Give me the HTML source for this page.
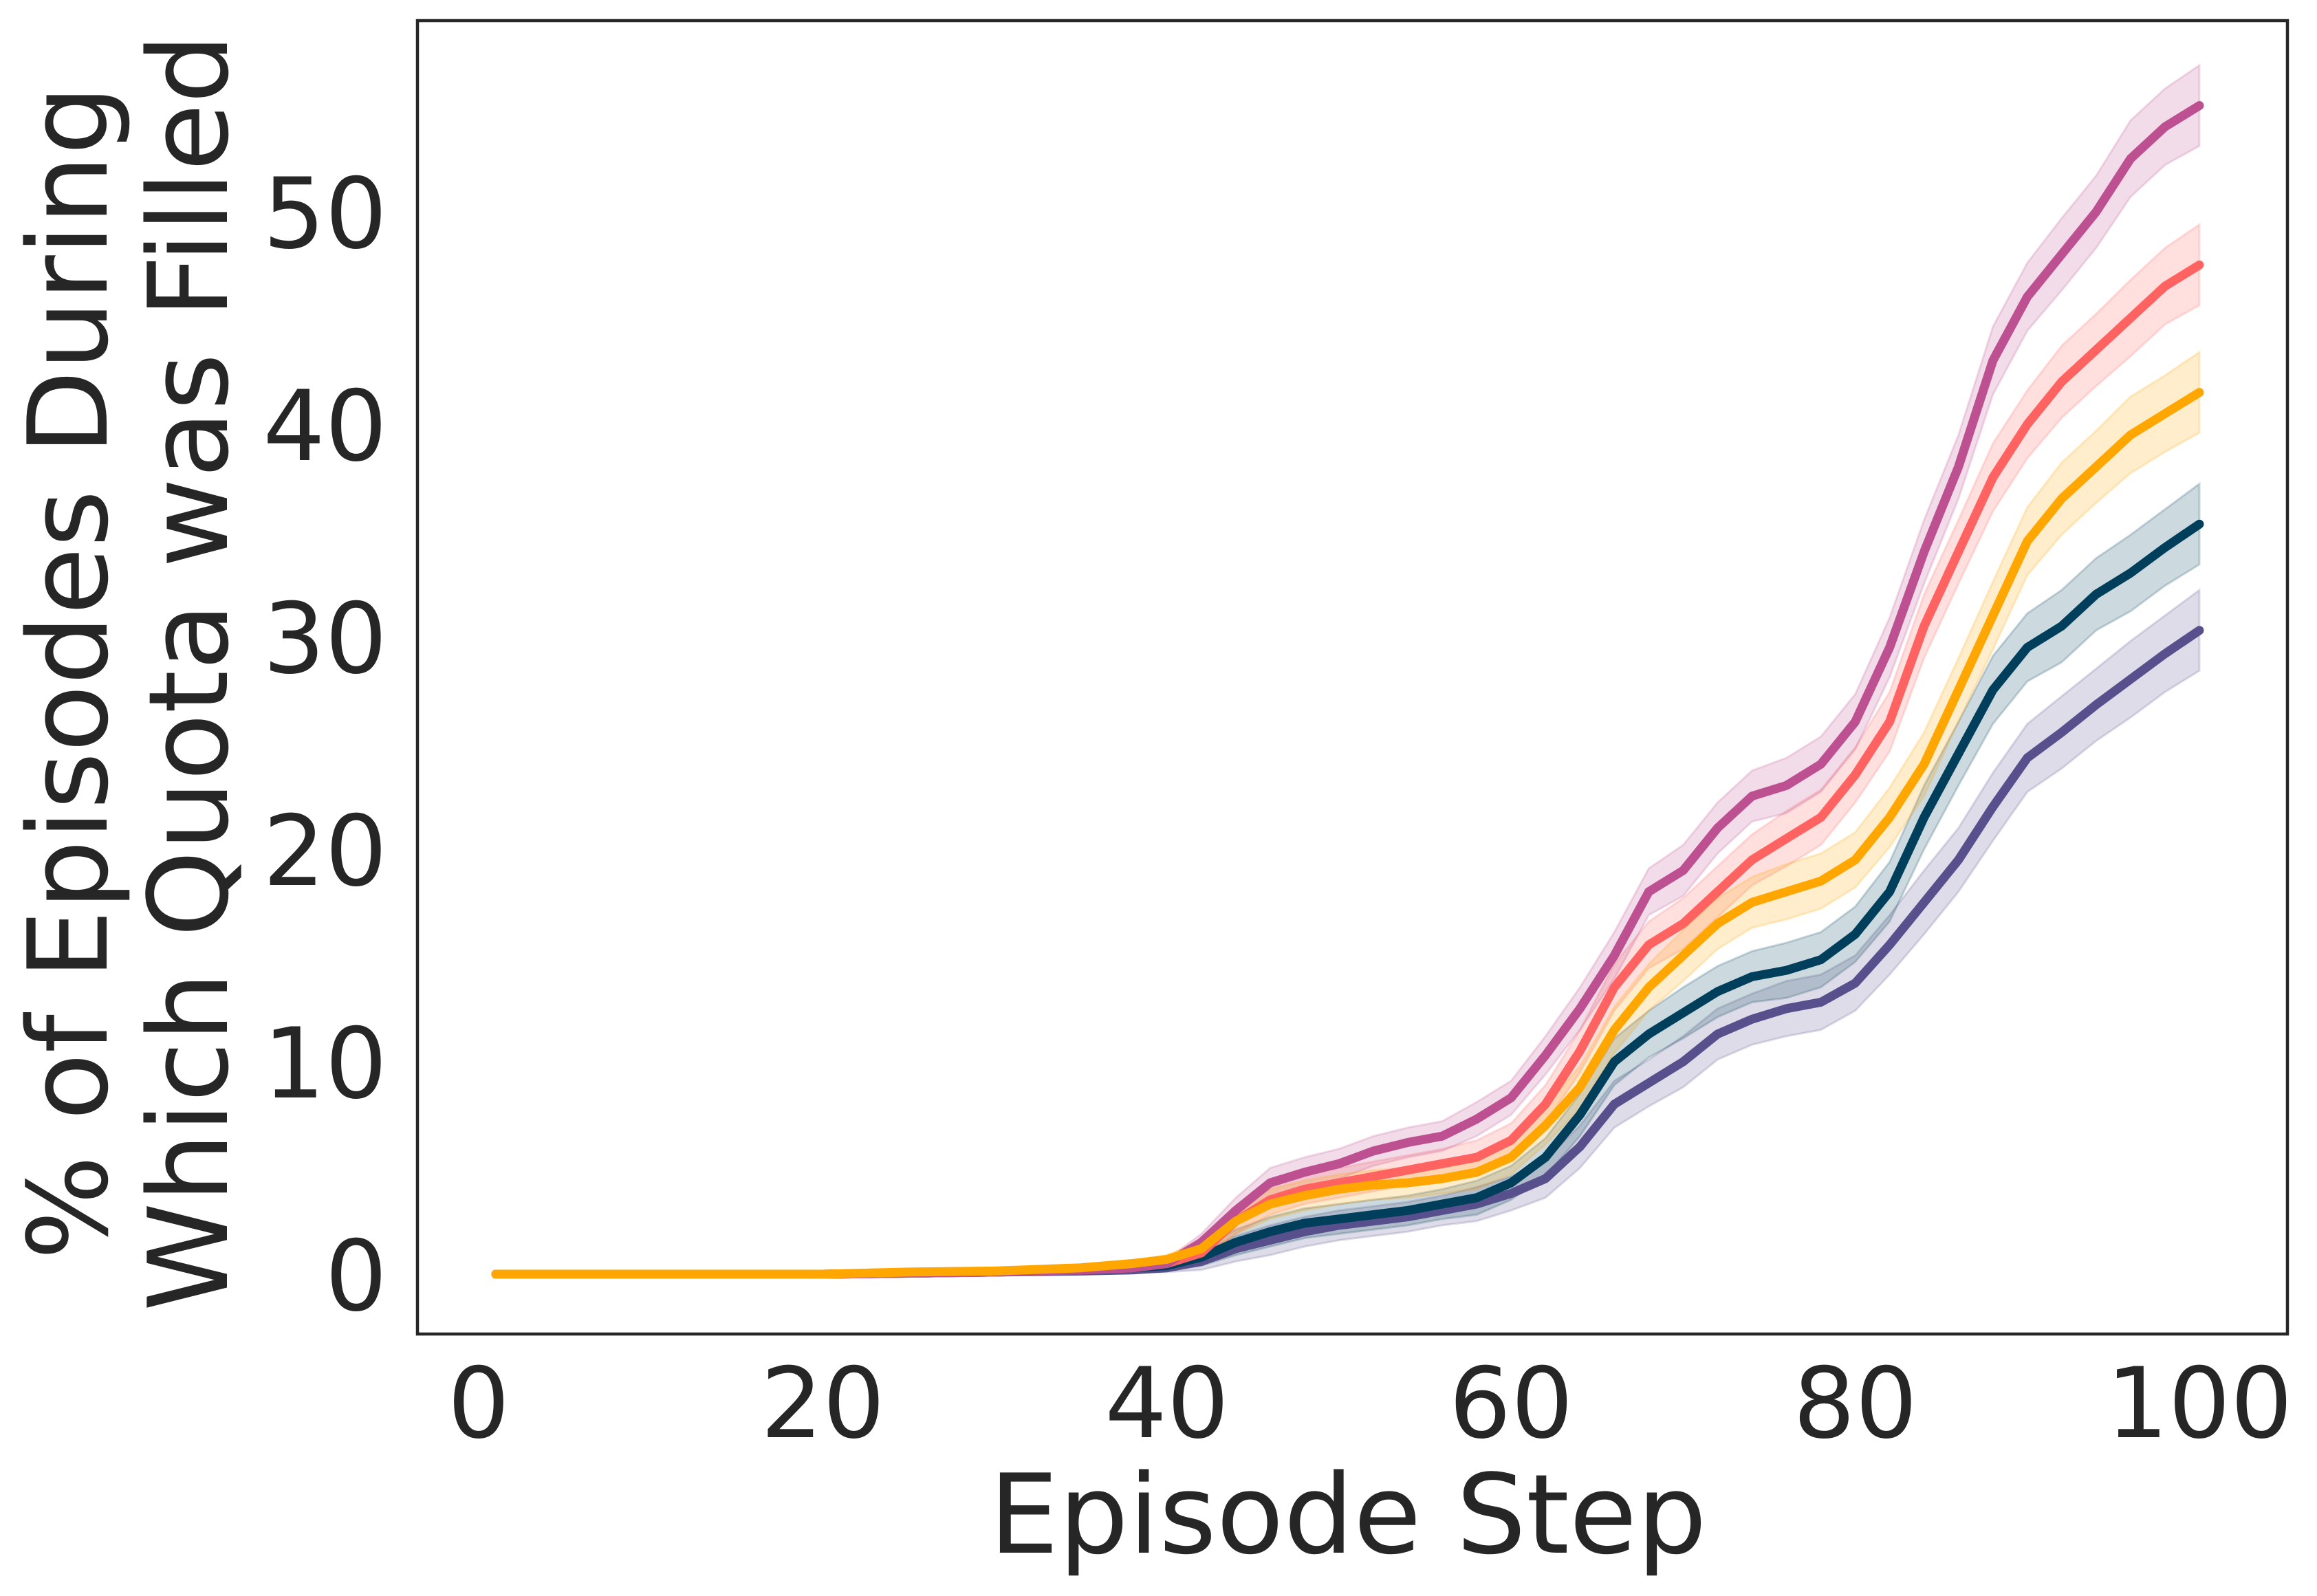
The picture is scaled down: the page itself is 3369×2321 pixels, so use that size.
<!DOCTYPE html>
<html><head><meta charset="utf-8"><style>
html,body{margin:0;padding:0;background:#fff;}
svg{display:block;font-family:"DejaVu Sans","Liberation Sans",sans-serif;}
</style></head><body>
<svg id="chart" width="3369" height="2321" viewBox="0 0 3369 2321" xmlns="http://www.w3.org/2000/svg">
<g id="bands"></g>
<g id="lines"></g>
<rect x="607" y="30" width="2719" height="1910" fill="none" stroke="#262626" stroke-width="4.5"/>
<g id="xticks" font-size="142" fill="#262626" text-anchor="middle"></g>
<g id="yticks" font-size="142" fill="#262626" text-anchor="end"></g>
<text x="1960" y="2258" font-size="160" fill="#262626" text-anchor="middle">Episode Step</text>
<g transform="translate(0,978) rotate(-90)" font-size="160" fill="#262626" text-anchor="middle">
<text x="0" y="155">% of Episodes During</text>
<text x="0" y="330">Which Quota was Filled</text>
</g>
</svg>
<script>
const steps = [1,10,20,25,30,35,38,40,42,44,46,48,50,52,54,56,58,60,62,64,66,68,70,72,74,76,78,80,82,84,86,88,90,92,94,96,98,100];
const magenta = [0,0,0,0.05,0.1,0.2,0.3,0.5,1.5,3,4.3,4.8,5.2,5.8,6.2,6.5,7.3,8.3,10.3,12.5,15,18,19,21,22.5,23,24,26,29.5,34,38,43,46,48,50,52.5,54,55];
const red = [0,0,0,0.05,0.1,0.2,0.3,0.5,1,2.5,3.5,4,4.3,4.6,4.9,5.2,5.5,6.3,8,10.5,13.5,15.5,16.5,18,19.5,20.5,21.5,23.5,26,30.5,34,37.5,40,42,43.5,45,46.5,47.5];
const orange = [0,0,0,0.1,0.15,0.3,0.5,0.7,1.2,2.5,3.3,3.7,4,4.2,4.3,4.5,4.8,5.5,7,8.8,11.5,13.5,15,16.5,17.5,18,18.5,19.5,21.5,24,27.5,31,34.5,36.5,38,39.5,40.5,41.5];
const navy = [0,0,0,0.05,0.1,0.2,0.3,0.4,0.8,1.5,2,2.4,2.6,2.8,3,3.3,3.6,4.3,5.5,7.5,10,11.3,12.3,13.3,14,14.3,14.8,16,18,21.5,24.5,27.5,29.5,30.5,32,33,34.2,35.3];
const purple = [0,0,0,0.05,0.1,0.15,0.2,0.3,0.6,1.2,1.6,2,2.3,2.5,2.7,3,3.3,3.8,4.5,6,8,9,10,11.3,12,12.5,12.8,13.7,15.5,17.5,19.5,22,24.3,25.5,26.8,28,29.2,30.3];
const ciHalf = [0,0,0,0.05,0.05,0.1,0.1,0.2,0.4,0.6,0.7,0.7,0.7,0.7,0.7,0.7,0.8,0.8,0.9,1,1.1,1.1,1.2,1.2,1.2,1.3,1.3,1.3,1.4,1.5,1.5,1.6,1.6,1.7,1.7,1.8,1.8,1.9];
const xTicks = [0,20,40,60,80,100];
const yTicks = [0,10,20,30,40,50];
const seriesNames = ['purple','navy','red','magenta','orange'];
const seriesData = [purple,navy,red,magenta,orange];
const seriesColors = ['#58508d','#003f5c','#ff6361','#bc5090','#ffa600'];

const X0=696, X1=3198, Y0=1853, Y50=308;
const xs = v => X0 + (X1-X0)*v/100;
const ys = v => Y0 + (Y50-Y0)*v/50;
const NS='http://www.w3.org/2000/svg';
const bands=document.getElementById('bands'), lines=document.getElementById('lines');
seriesData.forEach((d,k)=>{
  const up=steps.map((s,i)=>xs(s).toFixed(1)+','+ys(d[i]+ciHalf[i]).toFixed(1));
  const dn=steps.map((s,i)=>xs(s).toFixed(1)+','+ys(Math.max(0,d[i]-ciHalf[i])).toFixed(1)).reverse();
  const b=document.createElementNS(NS,'polygon');
  b.setAttribute('points',up.concat(dn).join(' '));
  b.setAttribute('fill',seriesColors[k]);b.setAttribute('fill-opacity','0.2');
  b.setAttribute('stroke',seriesColors[k]);b.setAttribute('stroke-opacity','0.2');b.setAttribute('stroke-width','3');
  
  
  bands.appendChild(b);
  const l=document.createElementNS(NS,'polyline');
  l.setAttribute('points',steps.map((s,i)=>xs(s).toFixed(1)+','+ys(d[i]).toFixed(1)).join(' '));
  l.setAttribute('fill','none');l.setAttribute('stroke',seriesColors[k]);l.setAttribute('stroke-width','13');
  l.setAttribute('stroke-linecap','round');l.setAttribute('stroke-linejoin','round');
  
  
  lines.appendChild(l);
});
const xt=document.getElementById('xticks');
xTicks.forEach(v=>{const t=document.createElementNS(NS,'text');t.setAttribute('x',xs(v));t.setAttribute('y',2090);t.textContent=v;
  
  
  xt.appendChild(t);});
const yt=document.getElementById('yticks');
yTicks.forEach(v=>{const t=document.createElementNS(NS,'text');t.setAttribute('x',563);t.setAttribute('y',ys(v)+52);t.textContent=v;
  
  
  yt.appendChild(t);});
</script>
</body></html>
